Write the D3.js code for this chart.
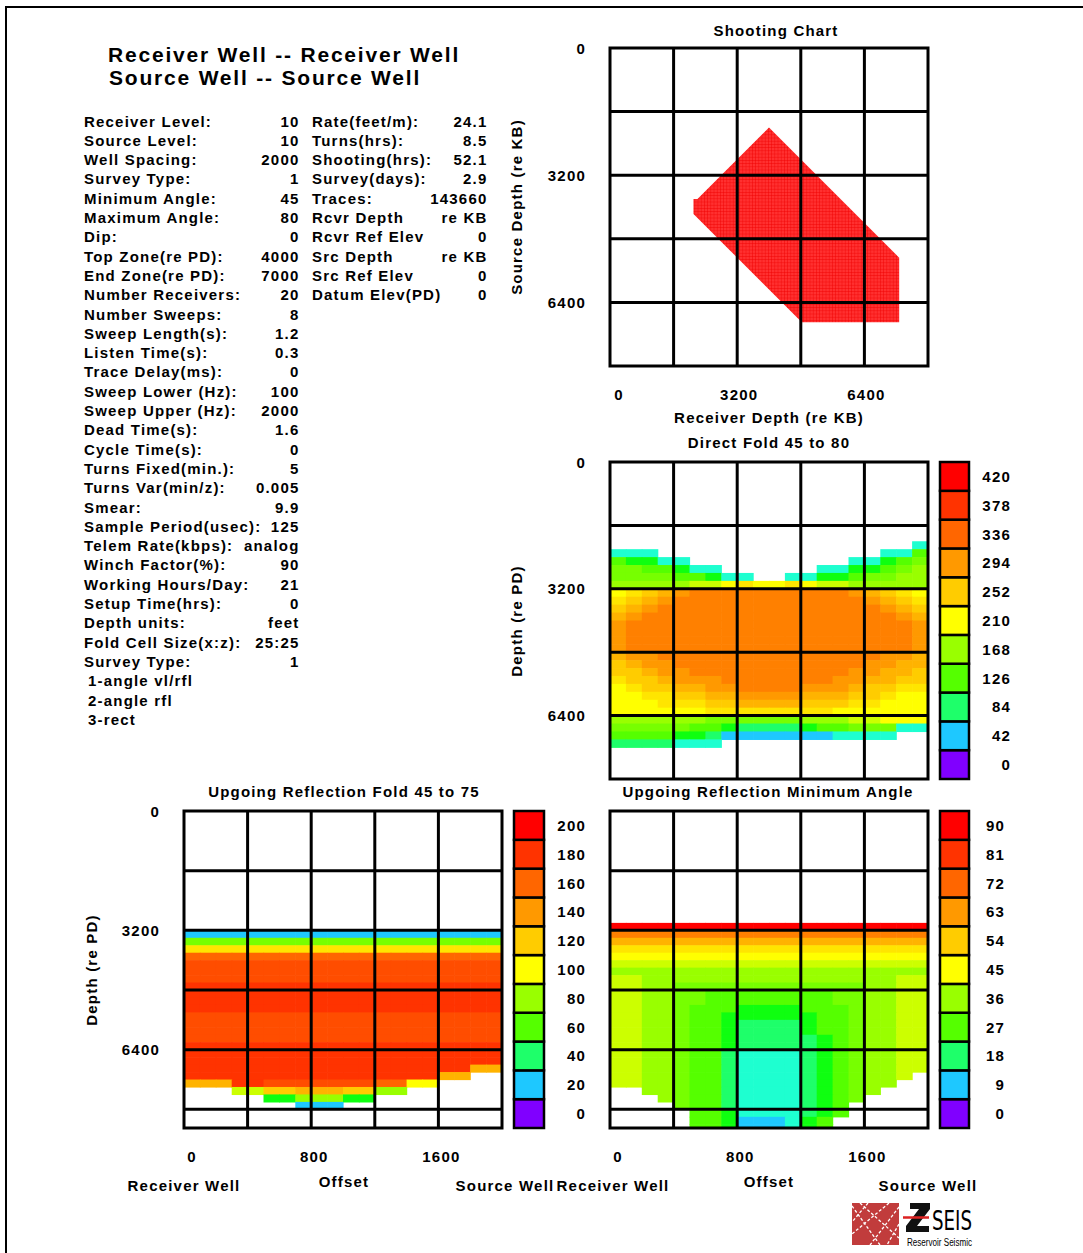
<!DOCTYPE html>
<html>
<head>
<meta charset="utf-8">
<script src="https://cdn.jsdelivr.net/npm/d3@7"></script>
<style>
  body { margin: 0; background: #fff; }
  svg text { font-family: "Liberation Sans", Arial, sans-serif; font-weight: bold; font-size: 15px; letter-spacing: 1.2px; fill: #000; }
</style>
</head>
<body>
<div id="app"></div>
<script>
const titleLines = ['Receiver Well -- Receiver Well', 'Source Well -- Source Well']

const paramLabels = ['Receiver Level:', 'Source Level:', 'Well Spacing:', 'Survey Type:', 'Minimum Angle:',
  'Maximum Angle:', 'Dip:', 'Top Zone(re PD):', 'End Zone(re PD):', 'Number Receivers:', 'Number Sweeps:',
  'Sweep Length(s):', 'Listen Time(s):', 'Trace Delay(ms):', 'Sweep Lower (Hz):', 'Sweep Upper (Hz):',
  'Dead Time(s):', 'Cycle Time(s):', 'Turns Fixed(min.):', 'Turns Var(min/z):', 'Smear:',
  'Sample Period(usec):', 'Telem Rate(kbps):', 'Winch Factor(%):', 'Working Hours/Day:', 'Setup Time(hrs):',
  'Depth units:', 'Fold Cell Size(x:z):', 'Survey Type:']
const paramValues = ['10', '10', '2000', '1', '45', '80', '0', '4000', '7000', '20', '8', '1.2', '0.3', '0',
  '100', '2000', '1.6', '0', '5', '0.005', '9.9', '125', 'analog', '90', '21', '0', 'feet', '25:25', '1']
const surveyNotes = ['1-angle vl/rfl', '2-angle rfl', '3-rect']
const timingLabels = ['Rate(feet/m):', 'Turns(hrs):', 'Shooting(hrs):', 'Survey(days):', 'Traces:',
  'Rcvr Depth', 'Rcvr Ref Elev', 'Src Depth', 'Src Ref Elev', 'Datum Elev(PD)']
const timingValues = ['24.1', '8.5', '52.1', '2.9', '143660', 're KB', '0', 're KB', '0', '0']

// shooting chart outline (receiver depth, source depth)
const shotRcvrDepth = [4000, 7275, 7275, 4825, 2100, 2100, 2200]
const shotSrcDepth = [2000, 5275, 6900, 6900, 4175, 3800, 3800]

const depthTicks = [0, 3200, 6400]
const offsetTicks = [0, 800, 1600]

const legendColors = ['#8000ff', '#1ec8ff', '#1eff6a', '#55ff00', '#99ff00', '#ffff00',
  '#ffcc00', '#ff9900', '#ff6600', '#ff3300', '#ff0000']
const directFoldTicks = [0, 42, 84, 126, 168, 210, 252, 294, 336, 378, 420]
const reflFoldTicks = [0, 20, 40, 60, 80, 100, 120, 140, 160, 180, 200]
const minAngleTicks = [0, 9, 18, 27, 36, 45, 54, 63, 72, 81, 90]

// fold cells: 100 ft offset x 200 ft depth, one char per cell = level 0..20 (base 36), '.' = no data
const cellOffset = 100
const cellDepth = 200

const directFoldFirstRow = 10
const directFoldRows = [
  '...................3',
  '333..............336',
  '65533..........33567',
  '7766533......3355678',
  '777766533..335567788',
  '8888899abaaba9988888',
  'abcdeffffffffffedcba',
  'bcdeffffffffffffedcb',
  'cdeffffffffffffffedc',
  'deffffffffffffffffed',
  'effffffffffffffffffe',
  'effffffffffffffffffe',
  'effffffffffffffffffe',
  'effffffffffffffffffe',
  'deeffffffffffffffeed',
  'cdeeffffffffffffeedd',
  'ccdeeffffffffffeeddc',
  'bccdeeefffffffeeddcc',
  'abccddeeffffeeedccbb',
  'aabbccddeeeedddccbaa',
  'aaabbbccddddcccbbaaa',
  'aaaaaabbbbbbbbaaaaaa',
  '88888877777788899aaa',
  '77777665444456677733',
  '666655422222223333..',
  '4444333.............'
]

const reflFoldFirstRow = 16
const reflFoldRows = [
  '22222222222222222222',
  '77777777777777777777',
  'bbbbbbbbbbbbbbbbbbbb',
  'gggggggggggggggggggg',
  'hhhhhhhhhhhhhhhhhhhh',
  'hhhhhhhhhhhhhhhhhhhh',
  'hhhhhhhhhhhhhhhhhhhh',
  'iiiiiiiiiiiiiiiiiiii',
  'iiiiiiiiiiiiiiiiiiii',
  'iiiiiiiiiiiiiiiiiiii',
  'iiiiiiiiiiiiiiiiiiii',
  'hhhhhhhhhhhhhhhhhhhh',
  'hhhhhhhhhhhhhhhhhhhh',
  'hhhhhhhhhhhhhhhhhhhh',
  'hhhhhhhhhhhhhhhhhhhh',
  'iiiiiiiiiiiiiiiiiiii',
  'iiiiiiiiiiiiiiiiiiii',
  'iiiiiiiiiiiiiiiiiiii',
  'iiiiiiiiiiiiiiiiiidd',
  'iiiiiiiiiiiiiiiidd..',
  'dddiihhhhhhhggaa....',
  '...99ccdddcc88......',
  '.....5588855........',
  '.......222..........'
]

const minAngleFirstRow = 15
const minAngleRows = [
  'kkkkkkkkkkkkkkkkkkkk',
  'ffffffffffffffffffff',
  'dddddddddddddddddddd',
  'bbbbbbbbbbbbbbbbbbbb',
  'aaaaaaaaaaaaaaaaaaaa',
  '99999999999999999999',
  '88888888888888888888',
  '99888888888888888899',
  '99887777777777778899',
  '99887766666666778899',
  '99887766666666778899',
  '99887666555566678899',
  '99887665555556678899',
  '99887665444456678899',
  '99887665444456678899',
  '99887665444445678899',
  '99887665444445678899',
  '99887664333345678899',
  '99887664333345678899',
  '99887664333345678899',
  '9988766433334567889.',
  '998876643333456788..',
  '..887664333345678...',
  '...8766433334567....',
  '....76643333456.....',
  '.....6653333456.....',
  '.....665222356......',
  '.....665222356......'
]

const W = 1083
const H = 1253

const svg = d3.select('#app')
  .append('svg')
  .attr('width', W)
  .attr('height', H)
  .attr('viewBox', [0, 0, W, H])

const defs = svg.append('defs')

// page frame
svg.append('path')
  .attr('d', `M6,${H} V7 H${W}`)
  .attr('fill', 'none')
  .attr('stroke', '#000')
  .attr('stroke-width', 2)

// title and survey parameters
svg.append('g').selectAll('text')
  .data(titleLines)
  .join('text')
  .attr('x', (d, i) => 108 + i)
  .attr('y', (d, i) => 62 + i * 23)
  .style('font-size', '21px')
  .style('letter-spacing', '1.8px')
  .text(d => d)

const lineY = i => 126.5 + i * 19.3
const params = svg.append('g')
params.selectAll('text.lbl')
  .data(paramLabels)
  .join('text')
  .attr('class', 'lbl')
  .attr('x', 84)
  .attr('y', (d, i) => lineY(i))
  .text(d => d)
params.selectAll('text.val')
  .data(paramValues)
  .join('text')
  .attr('class', 'val')
  .attr('x', 299.5)
  .attr('y', (d, i) => lineY(i))
  .attr('text-anchor', 'end')
  .text(d => d)
params.selectAll('text.note')
  .data(surveyNotes)
  .join('text')
  .attr('class', 'note')
  .attr('x', 88)
  .attr('y', (d, i) => lineY(paramLabels.length + i))
  .text(d => d)
params.selectAll('text.tlbl')
  .data(timingLabels)
  .join('text')
  .attr('class', 'tlbl')
  .attr('x', 312)
  .attr('y', (d, i) => lineY(i))
  .text(d => d)
params.selectAll('text.tval')
  .data(timingValues)
  .join('text')
  .attr('class', 'tval')
  .attr('x', 487.5)
  .attr('y', (d, i) => lineY(i))
  .attr('text-anchor', 'end')
  .text(d => d)

// helpers
function gridFrame(g, x, y, xStep, yStep) {
  const [x0, x1] = x.range()
  const [y0, y1] = y.range()
  const lines = g.append('g').attr('stroke', '#000').attr('stroke-width', 3)
  lines.selectAll('line.v')
    .data(d3.range(xStep, x.domain()[1] - 1, xStep))
    .join('line')
    .attr('class', 'v')
    .attr('x1', d => x(d)).attr('x2', d => x(d))
    .attr('y1', y0).attr('y2', y1)
  lines.selectAll('line.h')
    .data(d3.range(yStep, y.domain()[1] - 1, yStep))
    .join('line')
    .attr('class', 'h')
    .attr('x1', x0).attr('x2', x1)
    .attr('y1', d => y(d)).attr('y2', d => y(d))
  lines.append('rect')
    .attr('x', x0).attr('y', y0)
    .attr('width', x1 - x0).attr('height', y1 - y0)
    .attr('fill', 'none')
}

function foldMap(g, id, x, y, rows, firstRow, ticks) {
  const max = ticks[ticks.length - 1]
  const color = d3.scaleLinear().domain(ticks).range(legendColors).interpolate(d3.interpolateHsl)
  const [x0, x1] = x.range()
  const [y0, y1] = y.range()
  defs.append('clipPath').attr('id', id)
    .append('rect').attr('x', x0).attr('y', y0).attr('width', x1 - x0).attr('height', y1 - y0)
  const cells = []
  rows.forEach((row, i) => {
    Array.from(row).forEach((c, j) => {
      if (c !== '.') cells.push({ off: j * cellOffset, depth: (firstRow + i) * cellDepth, v: parseInt(c, 36) / 20 * max })
    })
  })
  g.append('g')
    .attr('clip-path', `url(#${id})`)
    .selectAll('rect')
    .data(cells)
    .join('rect')
    .attr('x', d => x(d.off))
    .attr('y', d => y(d.depth))
    .attr('width', x(cellOffset) - x(0) + 0.6)
    .attr('height', y(cellDepth) - y(0) + 0.6)
    .attr('fill', d => color(d.v))
}

function colorBar(g, y, left, width, labelX, ticks) {
  const band = d3.scaleBand().domain(ticks.slice().reverse()).range(y.range())
  g.append('g').selectAll('rect')
    .data(ticks)
    .join('rect')
    .attr('x', left)
    .attr('y', d => band(d))
    .attr('width', width)
    .attr('height', band.bandwidth())
    .attr('fill', (d, i) => legendColors[i])
    .attr('stroke', '#000')
    .attr('stroke-width', 2.5)
  g.append('g').selectAll('text')
    .data(ticks)
    .join('text')
    .attr('x', labelX)
    .attr('y', d => band(d) + band.bandwidth() / 2 + 5.5)
    .attr('text-anchor', 'end')
    .text(d => d)
}

function depthLabels(g, y, rightX, ticks) {
  g.append('g').selectAll('text')
    .data(ticks)
    .join('text')
    .attr('x', rightX)
    .attr('y', d => y(d) + 5.5)
    .attr('text-anchor', 'end')
    .text(d => d)
}

function xLabels(g, x, baseY, ticks, zeroShift, shift) {
  g.append('g').selectAll('text')
    .data(ticks)
    .join('text')
    .attr('x', d => x(d) + (d === 0 ? zeroShift : shift))
    .attr('y', baseY)
    .attr('text-anchor', 'middle')
    .text(d => d)
}

function label(g, text, x, y, rotate) {
  g.append('text')
    .attr('transform', `translate(${x},${y})` + (rotate ? ' rotate(-90)' : ''))
    .attr('text-anchor', 'middle')
    .text(text)
}

// Shooting chart
const shootX = d3.scaleLinear([0, 8000], [610, 928])
const shootY = d3.scaleLinear([0, 8000], [48, 366])
const shoot = svg.append('g')

const mesh = defs.append('pattern')
  .attr('id', 'mesh')
  .attr('patternUnits', 'userSpaceOnUse')
  .attr('width', 3.2)
  .attr('height', 3.2)
mesh.append('rect').attr('width', 3.2).attr('height', 3.2).attr('fill', '#ff3030')
mesh.append('path').attr('d', 'M0,0H3.2M0,0V3.2').attr('stroke', '#f00000').attr('stroke-width', 0.8)

shoot.append('path')
  .datum(d3.zip(shotRcvrDepth, shotSrcDepth))
  .attr('d', d => d3.line().x(p => shootX(p[0])).y(p => shootY(p[1]))(d) + 'Z')
  .attr('fill', 'url(#mesh)')
gridFrame(shoot, shootX, shootY, 1600, 1600)
label(shoot, 'Shooting Chart', 776, 36)
depthLabels(shoot, shootY, 586, depthTicks)
xLabels(shoot, shootX, 400, depthTicks, 9, 2)
label(shoot, 'Receiver Depth (re KB)', 769, 423)
label(shoot, 'Source Depth (re KB)', 522, 207, true)

// Direct fold
const dirX = d3.scaleLinear([0, 2000], [610, 928])
const dirY = d3.scaleLinear([0, 8000], [462, 779])
const direct = svg.append('g')
foldMap(direct, 'clipDirect', dirX, dirY, directFoldRows, directFoldFirstRow, directFoldTicks)
gridFrame(direct, dirX, dirY, 400, 1600)
label(direct, 'Direct Fold 45 to 80', 769, 448)
depthLabels(direct, dirY, 586, depthTicks)
label(direct, 'Depth (re PD)', 522, 621, true)
colorBar(direct, dirY, 940, 29, 1011, directFoldTicks)

// Upgoing reflection fold
const reflX = d3.scaleLinear([0, 2000], [184, 502])
const reflY = d3.scaleLinear([0, 8500], [811, 1128])
const refl = svg.append('g')
foldMap(refl, 'clipRefl', reflX, reflY, reflFoldRows, reflFoldFirstRow, reflFoldTicks)
gridFrame(refl, reflX, reflY, 400, 1600)
label(refl, 'Upgoing Reflection Fold 45 to 75', 344, 797)
depthLabels(refl, reflY, 160, depthTicks)
label(refl, 'Depth (re PD)', 97, 970, true)
colorBar(refl, reflY, 514, 30, 586, reflFoldTicks)
xLabels(refl, reflX, 1162, offsetTicks, 8, 3)
label(refl, 'Offset', 344, 1187)
label(refl, 'Receiver Well', reflX(0), 1191)
label(refl, 'Source Well', reflX(2000) + 3, 1191)

// Upgoing reflection minimum angle
const angX = d3.scaleLinear([0, 2000], [610, 928])
const angY = d3.scaleLinear([0, 8500], [811, 1128])
const ang = svg.append('g')
foldMap(ang, 'clipAngle', angX, angY, minAngleRows, minAngleFirstRow, minAngleTicks)
gridFrame(ang, angX, angY, 400, 1600)
label(ang, 'Upgoing Reflection Minimum Angle', 768, 797)
colorBar(ang, angY, 940, 29, 1005, minAngleTicks)
xLabels(ang, angX, 1162, offsetTicks, 8, 3)
label(ang, 'Offset', 769, 1187)
label(ang, 'Receiver Well', angX(0) + 3, 1191)
label(ang, 'Source Well', angX(2000), 1191)

// logo
const logo = svg.append('g')
logo.append('rect')
  .attr('x', 852).attr('y', 1203).attr('width', 47).attr('height', 42)
  .attr('fill', '#c13c3c')
logo.append('g')
  .attr('stroke', '#fff')
  .attr('stroke-width', 1.3)
  .attr('stroke-dasharray', '3,2')
  .selectAll('line')
  .data([[852, 1206, 880, 1245], [860, 1203, 899, 1238], [899, 1207, 870, 1245], [889, 1203, 852, 1234], [868, 1203, 852, 1222], [899, 1224, 887, 1245]])
  .join('line')
  .attr('x1', d => d[0]).attr('y1', d => d[1]).attr('x2', d => d[2]).attr('y2', d => d[3])
logo.append('path')
  .attr('d', 'M910,1203 H930 V1209 L917,1226 H929 V1232 H906 V1226 L919,1209 H910 Z')
  .attr('fill', '#111')
logo.append('line')
  .attr('x1', 903).attr('x2', 929).attr('y1', 1217.5).attr('y2', 1217.5)
  .attr('stroke', '#d22').attr('stroke-width', 2.5)
logo.append('text')
  .attr('x', 932).attr('y', 1230)
  .attr('textLength', 40)
  .attr('lengthAdjust', 'spacingAndGlyphs')
  .style('font-family', '"DejaVu Sans Condensed", "DejaVu Sans", sans-serif')
  .style('font-weight', 'normal')
  .style('font-size', '27px')
  .style('letter-spacing', '0px')
  .text('SEIS')
logo.append('text')
  .attr('x', 907).attr('y', 1246)
  .attr('textLength', 65)
  .attr('lengthAdjust', 'spacingAndGlyphs')
  .style('font-weight', 'normal')
  .style('font-size', '10px')
  .style('letter-spacing', '0px')
  .text('Reservoir Seismic')
</script>
</body>
</html>
